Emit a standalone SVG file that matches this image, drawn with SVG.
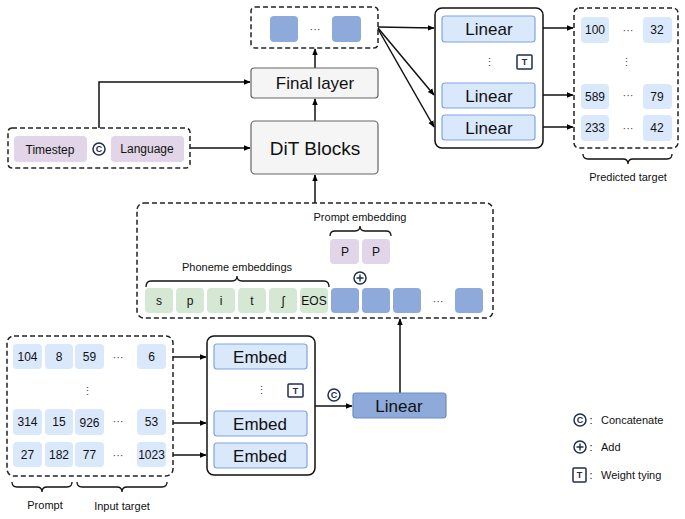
<svg xmlns="http://www.w3.org/2000/svg" width="685" height="519" viewBox="0 0 685 519">
<defs>
<marker id="ah" viewBox="0 0 10 10" refX="9" refY="5" markerWidth="7" markerHeight="7" markerUnits="userSpaceOnUse" orient="auto"><path d="M0,1 L10,5 L0,9 z" fill="#000"/></marker>
</defs>
<style>
text{font-family:"Liberation Sans",Arial,sans-serif;fill:#111;text-anchor:middle;dominant-baseline:central}
.dash{fill:none;stroke:#222;stroke-width:1.5;stroke-dasharray:5,3}
.grp{fill:#fff;stroke:#111;stroke-width:1.5}
.lb{fill:#dae8fc;stroke:#7ea6e0;stroke-width:1.2}
.cell{fill:#dae8fc;stroke:none}
.bl{fill:#8eaadb;stroke:none}
.pu{fill:#e1d5e7;stroke:none}
.gr{fill:#d5e8d4;stroke:none}
.gray{fill:#f5f5f5;stroke:#666;stroke-width:1.2}
.c{fill:none;stroke:#111;stroke-width:1.3}
.br{fill:none;stroke:#111;stroke-width:1.3}
.ln{fill:none;stroke:#111;stroke-width:1.5;marker-end:url(#ah)}
.t11{font-size:11px}
.t12{font-size:12px}
.t17{font-size:17px}
.dots{font-size:11px;fill:#444}
.sym{fill:#fff;stroke:#1f2d4f;stroke-width:1.5}
.symt{font-size:9px;font-weight:bold;fill:#1f2d4f}
</style>

<g id="connectors">
<path class="ln" d="M99,128 V82 H250"/>
<path class="ln" d="M190,148 H250"/>
<path class="ln" d="M315,121 V99"/>
<path class="ln" d="M315,68 V49"/>
<path class="ln" d="M315,203 V175"/>
<path class="ln" d="M378,27 L434,28"/>
<path class="ln" d="M378,28 L434,95"/>
<path class="ln" d="M378,29 L434,127"/>
<path class="ln" d="M543,28 H573"/>
<path class="ln" d="M543,95 H573"/>
<path class="ln" d="M543,127 H573"/>
<path class="ln" d="M173,357 H206"/>
<path class="ln" d="M173,423 H206"/>
<path class="ln" d="M173,455 H206"/>
<path class="ln" d="M315,406 H352"/>
<path class="ln" d="M400,393 V319"/>
</g>

<g id="output-tokens">
<rect class="dash" x="251" y="7" width="127" height="41" rx="4"/>
<rect class="bl" x="270" y="16" width="28" height="26" rx="4"/>
<text class="dots" x="315" y="29">···</text>
<rect class="bl" x="332" y="16" width="29" height="26" rx="4"/>
</g>

<g id="final-layer">
<rect class="gray" x="251" y="68" width="127" height="30" rx="3"/>
<text class="t17" x="315" y="83">Final layer</text>
</g>

<g id="dit-blocks">
<rect class="gray" x="251" y="121" width="127" height="53" rx="4"/>
<text x="315" y="148" style="font-size:19px">DiT Blocks</text>
</g>

<g id="condition">
<rect class="dash" x="8" y="128" width="182" height="40" rx="4"/>
<rect class="pu" x="14" y="136" width="73" height="26" rx="4"/>
<text class="t12" x="50" y="150">Timestep</text>
<circle class="sym" cx="99" cy="149" r="6"/>
<text class="symt" x="99" y="149">C</text>
<rect class="pu" x="111" y="136" width="73" height="26" rx="4"/>
<text class="t12" x="147" y="149">Language</text>
</g>

<g id="linear-heads">
<rect class="grp" x="435" y="8" width="108" height="140" rx="7"/>
<rect class="lb" x="442" y="16" width="93" height="26" rx="3"/>
<text class="t17" x="489" y="29">Linear</text>
<text class="dots" x="489" y="62">⋮</text>
<rect class="sym" x="517" y="55" width="15" height="14" rx="1"/>
<text class="symt" x="524.5" y="62">T</text>
<rect class="lb" x="442" y="83" width="93" height="25" rx="3"/>
<text class="t17" x="489" y="96">Linear</text>
<rect class="lb" x="442" y="115" width="93" height="25" rx="3"/>
<text class="t17" x="489" y="128">Linear</text>
</g>

<g id="predicted-target">
<rect class="dash" x="574" y="8" width="104" height="140" rx="5"/>
<rect class="cell" x="581" y="17" width="28" height="26" rx="4"/>
<text class="t12" x="595" y="30">100</text>
<text class="dots" x="628" y="30">···</text>
<rect class="cell" x="643" y="17" width="29" height="26" rx="4"/>
<text class="t12" x="657" y="30">32</text>
<text class="dots" x="626" y="62">⋮</text>
<rect class="cell" x="581" y="84" width="28" height="25" rx="4"/>
<text class="t12" x="595" y="97">589</text>
<text class="dots" x="628" y="95">···</text>
<rect class="cell" x="643" y="84" width="29" height="25" rx="4"/>
<text class="t12" x="657" y="97">79</text>
<rect class="cell" x="581" y="115" width="28" height="26" rx="4"/>
<text class="t12" x="595" y="128">233</text>
<text class="dots" x="628" y="128">···</text>
<rect class="cell" x="643" y="115" width="29" height="26" rx="4"/>
<text class="t12" x="657" y="128">42</text>
<path class="br" d="M583,154 Q583,159 588,159 H623 Q628,159 628,164 Q628,159 633,159 H667 Q672,159 672,154"/>
<text class="t11" x="628" y="177">Predicted target</text>
</g>

<g id="sequence">
<rect class="dash" x="137" y="203" width="356" height="115" rx="7"/>
<text class="t11" x="360" y="217">Prompt embedding</text>
<path class="br" d="M330,236 Q330,231 335,231 H355 Q360,231 360,226 Q360,231 365,231 H386 Q391,231 391,236"/>
<rect class="pu" x="330" y="239" width="29" height="25" rx="4"/>
<text class="t12" x="345" y="252">P</text>
<rect class="pu" x="362" y="239" width="28" height="25" rx="4"/>
<text class="t12" x="376" y="252">P</text>
<text class="t11" x="237" y="267">Phoneme embeddings</text>
<path class="br" d="M146,287 Q146,281 151,281 H232 Q237,281 237,276 Q237,281 242,281 H324 Q329,281 329,287"/>
<circle class="sym" cx="360" cy="278" r="6"/>
<path d="M356.5,278 H363.5 M360,274.5 V281.5" stroke="#1f2d4f" stroke-width="1.4"/>
<rect class="gr" x="145" y="288" width="28" height="25" rx="4"/>
<text class="t12" x="159" y="301">s</text>
<rect class="gr" x="176" y="288" width="28" height="25" rx="4"/>
<text class="t12" x="190" y="301">p</text>
<rect class="gr" x="207" y="288" width="28" height="25" rx="4"/>
<text class="t12" x="221" y="301">i</text>
<rect class="gr" x="238" y="288" width="28" height="25" rx="4"/>
<text class="t12" x="252" y="301">t</text>
<rect class="gr" x="269" y="288" width="28" height="25" rx="4"/>
<text class="t12" x="283" y="301">ʃ</text>
<rect class="gr" x="300" y="288" width="28" height="25" rx="4"/>
<text class="t12" x="314" y="301">EOS</text>
<rect class="bl" x="331" y="288" width="28" height="25" rx="4"/>
<rect class="bl" x="362" y="288" width="28" height="25" rx="4"/>
<rect class="bl" x="393" y="288" width="28" height="25" rx="4"/>
<text class="dots" x="438" y="301">···</text>
<rect class="bl" x="455" y="288" width="28" height="25" rx="4"/>
</g>

<g id="input-tokens">
<rect class="dash" x="7" y="336" width="166" height="140" rx="7"/>
<rect class="cell" x="13" y="344" width="29" height="25" rx="4"/>
<text class="t12" x="27.5" y="357">104</text>
<rect class="cell" x="45" y="344" width="28" height="25" rx="4"/>
<text class="t12" x="59" y="357">8</text>
<rect class="cell" x="75" y="344" width="29" height="25" rx="4"/>
<text class="t12" x="89.5" y="357">59</text>
<text class="dots" x="118" y="357">···</text>
<rect class="cell" x="137" y="344" width="29" height="25" rx="4"/>
<text class="t12" x="151.5" y="357">6</text>
<text class="dots" x="87" y="391">⋮</text>
<rect class="cell" x="13" y="409" width="29" height="26" rx="4"/>
<text class="t12" x="27.5" y="422">314</text>
<rect class="cell" x="45" y="409" width="28" height="26" rx="4"/>
<text class="t12" x="59" y="422">15</text>
<rect class="cell" x="75" y="409" width="29" height="26" rx="4"/>
<text class="t12" x="89.5" y="423">926</text>
<text class="dots" x="118" y="421">···</text>
<rect class="cell" x="137" y="409" width="29" height="26" rx="4"/>
<text class="t12" x="151.5" y="422">53</text>
<rect class="cell" x="13" y="442" width="29" height="25" rx="4"/>
<text class="t12" x="27.5" y="455">27</text>
<rect class="cell" x="45" y="442" width="28" height="25" rx="4"/>
<text class="t12" x="59" y="455">182</text>
<rect class="cell" x="75" y="442" width="29" height="25" rx="4"/>
<text class="t12" x="89.5" y="455">77</text>
<text class="dots" x="118" y="455">···</text>
<rect class="cell" x="137" y="442" width="29" height="25" rx="4"/>
<text class="t12" x="151.5" y="455">1023</text>
<path class="br" d="M12,482 Q12,487 17,487 H37 Q42,487 42,492 Q42,487 47,487 H67 Q72,487 72,482"/>
<text class="t11" x="45" y="505">Prompt</text>
<path class="br" d="M77,482 Q77,487 82,487 H117 Q122,487 122,492 Q122,487 127,487 H162 Q167,487 167,482"/>
<text class="t11" x="122" y="506">Input target</text>
</g>

<g id="embed-group">
<rect class="grp" x="207" y="336" width="108" height="139" rx="7"/>
<rect class="lb" x="214" y="344" width="93" height="25" rx="3"/>
<text class="t17" x="260" y="357">Embed</text>
<text class="dots" x="261" y="390">⋮</text>
<rect class="sym" x="288" y="384" width="15" height="13" rx="1"/>
<text class="symt" x="295.5" y="390.5">T</text>
<rect class="lb" x="214" y="411" width="93" height="25" rx="3"/>
<text class="t17" x="260" y="424">Embed</text>
<rect class="lb" x="214" y="443" width="93" height="25" rx="3"/>
<text class="t17" x="260" y="456">Embed</text>
</g>

<g id="concat-sym">
<circle class="sym" cx="334" cy="395" r="6"/>
<text class="symt" x="334" y="395">C</text>
</g>

<g id="linear-in">
<rect x="353" y="393" width="93" height="25" rx="3" fill="#8eaadb" stroke="#6c8ebf" stroke-width="1.2"/>
<text class="t17" x="399" y="406">Linear</text>
</g>

<g id="legend">
<circle class="sym" cx="580" cy="420" r="6"/>
<text class="symt" x="580" y="420">C</text>
<text class="t11" x="591" y="420">:</text>
<text class="t11" x="601" y="420" style="text-anchor:start">Concatenate</text>
<circle class="sym" cx="580" cy="447" r="6"/>
<path d="M576.5,447 H583.5 M580,443.5 V450.5" stroke="#1f2d4f" stroke-width="1.4"/>
<text class="t11" x="591" y="447">:</text>
<text class="t11" x="601" y="447" style="text-anchor:start">Add</text>
<rect class="sym" x="573" y="468" width="13" height="14" rx="1"/>
<text class="symt" x="579.5" y="475">T</text>
<text class="t11" x="591" y="475">:</text>
<text class="t11" x="601" y="475" style="text-anchor:start">Weight tying</text>
</g>
</svg>
